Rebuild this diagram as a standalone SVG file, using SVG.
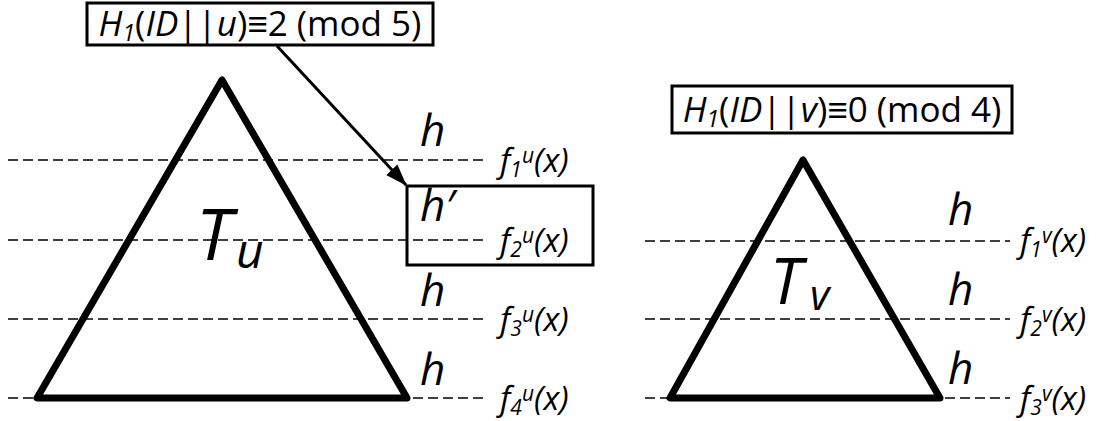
<svg xmlns="http://www.w3.org/2000/svg" width="1115" height="421" viewBox="0 0 1115 421">
<style>
text{font-family:"Open Sans","Noto Sans",sans-serif;fill:#000}
.it{font-style:italic}
.dash{stroke:#000;stroke-width:1.3;stroke-dasharray:10 5;fill:none}
.tri{stroke:#000;stroke-width:7;fill:none;stroke-linejoin:round}
.box{stroke:#000;stroke-width:3;fill:#fff}
.h{font-size:44px;font-style:italic}
.f{font-size:33px;font-style:italic}
.lbl{font-size:35px}
</style>
<defs>
<marker id="ah2" viewBox="0 0 20 14" refX="19" refY="7" markerWidth="22" markerHeight="16" orient="auto" markerUnits="userSpaceOnUse">
<path d="M0,0 L20,7 L0,14 Z" fill="#000"/>
</marker>
</defs>
<g id="levels-u">
<line class="dash" x1="8" y1="160" x2="487" y2="160"/>
<line class="dash" x1="8" y1="240" x2="487" y2="240"/>
<line class="dash" x1="8" y1="319" x2="487" y2="319"/>
<line class="dash" x1="8" y1="398" x2="487" y2="398"/>
</g>
<g id="levels-v">
<line class="dash" x1="645" y1="241" x2="1010" y2="241"/>
<line class="dash" x1="645" y1="319" x2="1010" y2="319"/>
<line class="dash" x1="645" y1="398" x2="1010" y2="398"/>
</g>
<g id="tree-u">
<path class="tri" d="M222,80 L37,398 L407,398 Z"/>
<text class="it" x="196" y="260" font-size="72">T</text>
<text class="it" x="236" y="268" font-size="48">u</text>
</g>
<g id="tree-v">
<path class="tri" d="M803,160 L670,398 L940,398 Z"/>
<text class="it" x="770" y="304" font-size="64">T</text>
<text class="it" x="810" y="310" font-size="42">v</text>
</g>
<g id="box-hprime">
<rect class="box" x="407" y="186" width="186" height="79" style="fill:none"/>
</g>
<g id="labels-u">
<text class="h" x="420" y="146">h</text>
<text class="f" x="500" y="172">f<tspan font-size="21" dy="5">1</tspan><tspan font-size="21" dy="-14">u</tspan><tspan dy="9">(x)</tspan></text>
<text class="h" x="420" y="221">h′</text>
<text class="f" x="500" y="252">f<tspan font-size="21" dy="5">2</tspan><tspan font-size="21" dy="-14">u</tspan><tspan dy="9">(x)</tspan></text>
<text class="h" x="420" y="306">h</text>
<text class="f" x="500" y="331">f<tspan font-size="21" dy="5">3</tspan><tspan font-size="21" dy="-14">u</tspan><tspan dy="9">(x)</tspan></text>
<text class="h" x="420" y="385">h</text>
<text class="f" x="500" y="410">f<tspan font-size="21" dy="5">4</tspan><tspan font-size="21" dy="-14">u</tspan><tspan dy="9">(x)</tspan></text>
</g>
<g id="labels-v">
<text class="h" x="948" y="225">h</text>
<text class="f" x="1020" y="252">f<tspan font-size="21" dy="5">1</tspan><tspan font-size="21" dy="-14">v</tspan><tspan dy="9">(x)</tspan></text>
<text class="h" x="948" y="305">h</text>
<text class="f" x="1020" y="331">f<tspan font-size="21" dy="5">2</tspan><tspan font-size="21" dy="-14">v</tspan><tspan dy="9">(x)</tspan></text>
<text class="h" x="948" y="384">h</text>
<text class="f" x="1020" y="410">f<tspan font-size="21" dy="5">3</tspan><tspan font-size="21" dy="-14">v</tspan><tspan dy="9">(x)</tspan></text>
</g>
<g id="cond-u">
<rect class="box" x="87" y="3" width="346" height="42"/>
<text class="lbl" x="260" y="36" text-anchor="middle"><tspan class="it">H</tspan><tspan class="it" font-size="23" dy="5">1</tspan><tspan dy="-5">(</tspan><tspan class="it">ID</tspan>||<tspan class="it">u</tspan>)≡2 (mod 5)</text>
</g>
<g id="cond-v">
<rect class="box" x="672" y="86" width="340" height="47"/>
<text class="lbl" x="842" y="122" text-anchor="middle"><tspan class="it">H</tspan><tspan class="it" font-size="23" dy="5">1</tspan><tspan dy="-5">(</tspan><tspan class="it">ID</tspan>||<tspan class="it">v</tspan>)≡0 (mod 4)</text>
</g>
<g id="connectors">
<line x1="277" y1="46" x2="406" y2="185" stroke="#000" stroke-width="3" marker-end="url(#ah2)"/>
</g>
</svg>
